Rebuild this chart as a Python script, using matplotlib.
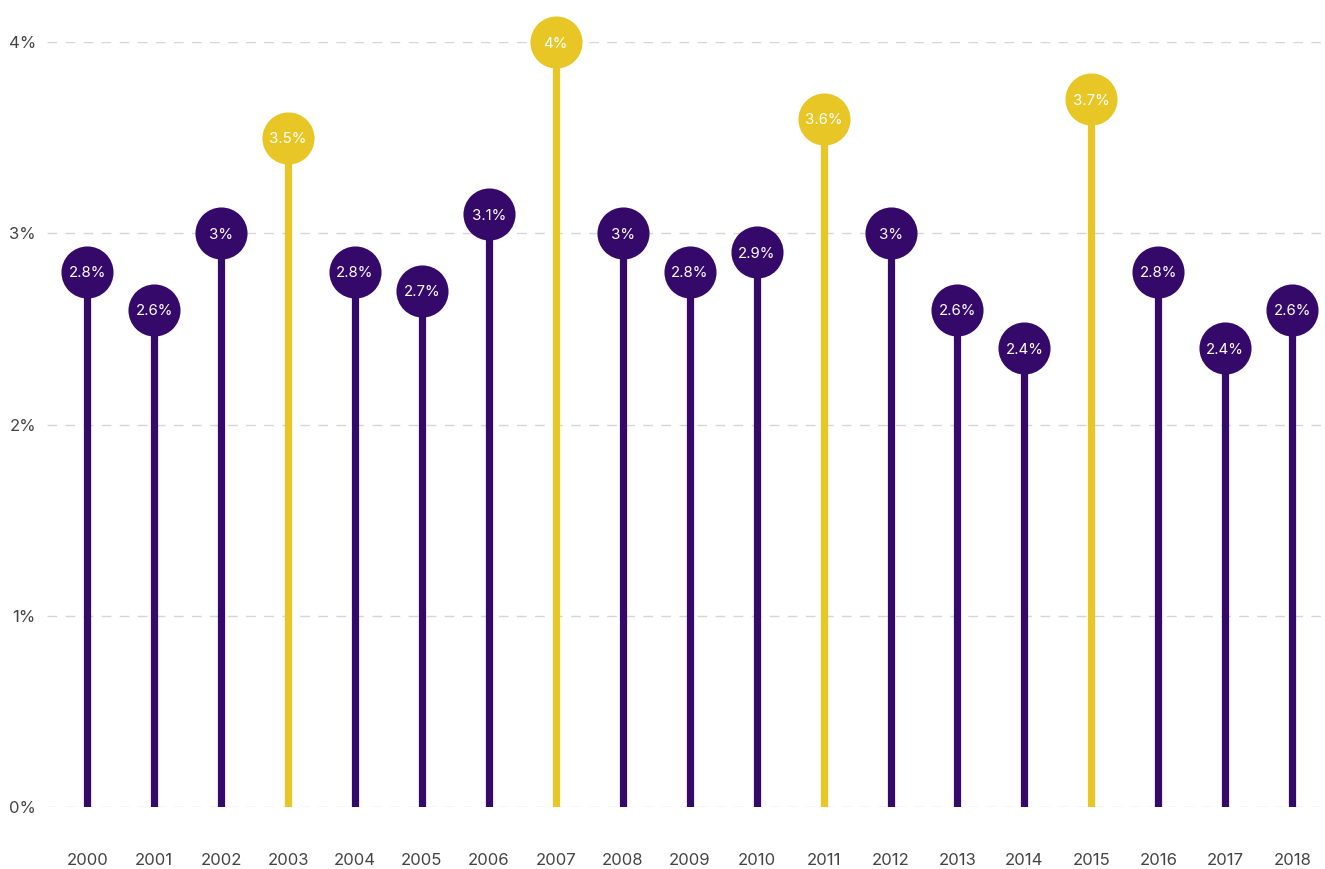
import matplotlib
matplotlib.use("Agg")
import matplotlib.pyplot as plt

years = list(range(2000, 2019))
values = [2.8, 2.6, 3.0, 3.5, 2.8, 2.7, 3.1, 4.0, 3.0, 2.8,
          2.9, 3.6, 3.0, 2.6, 2.4, 3.7, 2.8, 2.4, 2.6]
highlight = [2003, 2007, 2011, 2015]
yticks = [0, 1, 2, 3, 4]

purple = "#35096a"
yellow = "#e8c626"

plt.rcParams["font.family"] = ["Inter", "DejaVu Sans"]

fig = plt.figure(figsize=(13.25, 8.69), dpi=100)
ax = fig.add_axes([47 / 1325, 1 - 807 / 869, 1 - 47 / 1325, (807 - 42) / 869])

for i, (yr, v) in enumerate(zip(years, values)):
    c = yellow if yr in highlight else purple
    ax.plot([i, i], [0, v], color=c, lw=5.2, solid_capstyle="butt", zorder=3)
    ax.plot(i, v, "o", ms=37.5, color=c, mec="none", zorder=4, clip_on=False)
    ax.text(i, v, f"{v:g}%", ha="center", va="center_baseline", color="white",
            fontsize=10.8, zorder=5, clip_on=False)

ax.set_xlim(-0.6, 18.49)
ax.set_ylim(0, 4)
ax.set_yticks(yticks)
ax.set_yticklabels([f"{t}%" for t in yticks])
ax.set_xticks(range(len(years)))
ax.set_xticklabels([str(y) for y in years])
ax.tick_params(length=0, labelsize=12, colors="#444444")
ax.tick_params(axis="x", pad=33)
ax.tick_params(axis="y", pad=8)
for s in ax.spines.values():
    s.set_visible(False)
ax.yaxis.grid(True, color="#d6d6d6", lw=1, dashes=(7, 6))
ax.set_axisbelow(True)

fig.savefig("out.png", dpi=100)
